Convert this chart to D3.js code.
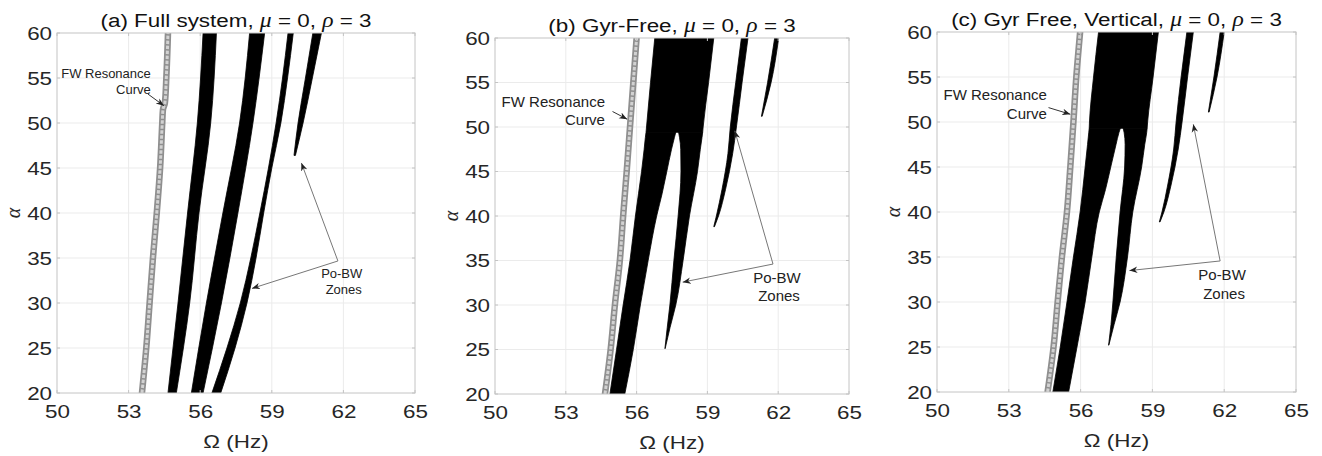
<!DOCTYPE html>
<html>
<head>
<meta charset="utf-8">
<script src="https://cdn.jsdelivr.net/npm/d3@7"></script>
<style>
  body { margin: 0; background: #fff; }
  svg { display: block; font-family: "Liberation Sans", Arial, sans-serif; }
</style>
</head>
<body>
<svg id="chart" width="1322" height="456"></svg>
<script>
// axis ticks (same for all three panels)
var xTicks = [50, 53, 56, 59, 62, 65];
var yTicks = [20, 25, 30, 35, 40, 45, 50, 55, 60];

// FW resonance curves: [Omega (Hz), alpha]
var fwCurveA = [[53.56, 20], [53.74, 25], [53.88, 30], [54.02, 35], [54.18, 40], [54.32, 45],
  [54.41, 50], [54.44, 51.5], [54.52, 52.2], [54.58, 55], [54.65, 60]];
var fwCurveB = [[54.66, 20], [54.90, 25], [55.08, 30], [55.29, 35], [55.43, 40], [55.58, 45],
  [55.72, 50], [55.86, 55], [56.0, 60]];
var fwCurveC = [[54.62, 20], [54.87, 25], [55.04, 30], [55.22, 35], [55.43, 40], [55.57, 45],
  [55.70, 50], [55.82, 55], [55.98, 60]];

// Po-BW zones: rows of [alpha, Omega left edge, Omega right edge]
// panel (a) full system
var band1A = [[20, 54.65, 55.0], [30, 55.07, 55.56], [40, 55.47, 55.95], [50, 55.88, 56.44], [60, 56.12, 56.68]];
var band2A = [[20, 55.63, 56.12], [30, 56.26, 56.89], [40, 56.95, 57.58], [50, 57.65, 58.21], [60, 58.07, 58.70]];
var band3A = [[20, 56.49, 56.86], [25, 57.12, 57.46], [30, 57.68, 57.96], [35, 58.12, 58.34], [40, 58.5, 58.66],
  [45, 58.86, 59.0], [50, 59.18, 59.38], [55, 59.45, 59.66], [60, 59.68, 59.9]];
var band4A = [[46.4, 59.93, 59.99], [50, 60.10, 60.31], [55, 60.41, 60.70], [60, 60.72, 61.08]];

// panel (b) gyr-free: main zone split into left column, right branch and top block
var leftColB = [[20, 54.87, 55.5], [25, 55.15, 55.86], [30, 55.43, 56.16], [35, 55.72, 56.49], [40, 55.95, 56.85],
  [42.5, 56.08, 57.08], [45, 56.21, 57.28], [47.5, 56.32, 57.48], [48.8, 56.37, 57.6], [49.4, 56.4, 57.66]];
var rightBrB = [[25.1, 57.2, 57.21], [27.5, 57.3, 57.42], [30, 57.41, 57.66], [35, 57.58, 57.97], [40, 57.76, 58.24],
  [45, 57.88, 58.58], [47.5, 57.87, 58.7], [48.8, 57.82, 58.77], [49.4, 57.78, 58.8]];
var topBlockB = [[49.4, 56.4, 58.8], [50, 56.42, 58.82], [55, 56.59, 59.05], [60, 56.77, 59.27]];
var thinB = [[38.8, 59.27, 59.3], [40, 59.38, 59.47], [43, 59.62, 59.77], [47, 59.87, 60.07], [50, 59.97, 60.23],
  [55, 60.2, 60.47], [60, 60.44, 60.72]];
var tipB = [[51.2, 61.29, 61.32], [55, 61.55, 61.7], [60, 61.85, 62.02]];

// panel (c) gyr free, vertical
var leftColC = [[20, 54.84, 55.5], [25, 55.15, 55.85], [30, 55.43, 56.19], [35, 55.70, 56.47], [40, 55.98, 56.78],
  [42.5, 56.09, 57.04], [45, 56.19, 57.26], [47.5, 56.29, 57.48], [48.8, 56.34, 57.6], [49.3, 56.36, 57.66]];
var rightBrC = [[25.2, 57.17, 57.18], [27.5, 57.27, 57.4], [30, 57.35, 57.65], [35, 57.49, 57.96], [40, 57.65, 58.18],
  [45, 57.84, 58.55], [47.5, 57.86, 58.68], [48.8, 57.82, 58.76], [49.3, 57.78, 58.78]];
var topBlockC = [[49.3, 56.36, 58.78], [50, 56.37, 58.8], [55, 56.54, 59.03], [60, 56.75, 59.25]];
var thinC = [[38.9, 59.29, 59.32], [40, 59.4, 59.48], [43, 59.64, 59.78], [47, 59.89, 60.08], [50, 59.99, 60.24],
  [55, 60.2, 60.47], [60, 60.44, 60.71]];
var tipC = [[51.1, 61.34, 61.37], [55, 61.57, 61.7], [60, 61.83, 62.0]];

var panels = [
  {
    title: ['(a) Full system, ', 'μ', ' = 0, ', 'ρ', ' = 3'],
    box: { l: 57, t: 33, r: 415, b: 393 },
    fw: fwCurveA,
    zones: [band1A, band2A, band3A, band4A],
    annSize: 13,
    fwText: [53.93, 55.03], fwArrow: [[53.81, 53.22], [54.48, 51.92]],
    poText: [61.93, 32.81], poJoin: [61.77, 34.67], poTips: [[60.24, 45.56], [58.17, 31.62]]
  },
  {
    title: ['(b) Gyr-Free, ', 'μ', ' = 0, ', 'ρ', ' = 3'],
    box: { l: 495, t: 38, r: 849, b: 394 },
    fw: fwCurveB,
    zones: [leftColB, rightBrB, topBlockB, thinB, tipB],
    annSize: 15,
    fwText: [54.66, 52.27], fwArrow: [[54.98, 51.74], [55.6, 50.88]],
    poText: [61.95, 32.46], poJoin: [61.78, 34.6], poTips: [[60.16, 49.57], [57.95, 32.57]]
  },
  {
    title: ['(c) Gyr Free, Vertical, ', 'μ', ' = 0, ', 'ρ', ' = 3'],
    box: { l: 937, t: 32, r: 1296, b: 392 },
    fw: fwCurveC,
    zones: [leftColC, rightBrC, topBlockC, thinC, tipC],
    annSize: 15,
    fwText: [54.59, 52.41], fwArrow: [[54.66, 51.6], [55.57, 50.86]],
    poText: [61.91, 32.41], poJoin: [61.83, 34.56], poTips: [[60.71, 49.74], [58.04, 33.49]]
  }
];

// the source figure is stretched sideways a little
var stretch = 1.18;
var inkColor = '#262626';
var frameColor = '#c4c4c4';

var svg = d3.select('#chart');

var defs = svg.append('defs');
defs.append('marker')
  .attr('id', 'head')
  .attr('viewBox', '0 0 10 10')
  .attr('refX', 10).attr('refY', 5)
  .attr('markerWidth', 8).attr('markerHeight', 8)
  .attr('markerUnits', 'userSpaceOnUse')
  .attr('orient', 'auto')
  .append('path')
  .attr('d', 'M0,1 L10,5 L0,9 L3,5 Z')
  .attr('fill', '#222');

function wideText(parent, cx, cy, size) {
  return parent.append('text')
    .attr('transform', 'translate(' + cx + ',' + cy + ') scale(' + stretch + ',1)')
    .attr('text-anchor', 'middle')
    .attr('font-size', size)
    .attr('fill', inkColor);
}

panels.forEach(function (p, k) {
  var b = p.box;
  var x = d3.scaleLinear().domain([50, 65]).range([b.l, b.r]);
  var y = d3.scaleLinear().domain([20, 60]).range([b.b, b.t]);
  var g = svg.append('g').attr('class', 'panel');

  defs.append('clipPath').attr('id', 'clip' + k)
    .append('rect')
    .attr('x', b.l).attr('y', b.t)
    .attr('width', b.r - b.l).attr('height', b.b - b.t);

  // grid
  g.selectAll('line.gx').data(xTicks.slice(1, -1)).join('line')
    .attr('x1', function (d) { return x(d); }).attr('x2', function (d) { return x(d); })
    .attr('y1', b.t).attr('y2', b.b)
    .attr('stroke', '#ebebeb');
  g.selectAll('line.gy').data(yTicks.slice(1, -1)).join('line')
    .attr('y1', function (d) { return y(d); }).attr('y2', function (d) { return y(d); })
    .attr('x1', b.l).attr('x2', b.r)
    .attr('stroke', '#ebebeb');

  var plot = g.append('g').attr('clip-path', 'url(#clip' + k + ')');
  var line = d3.line().x(function (d) { return x(d[0]); }).y(function (d) { return y(d[1]); });

  // black Po-BW zones
  var zoneArea = d3.area()
    .y(function (d) { return y(d[0]); })
    .x0(function (d) { return x(d[1]); })
    .x1(function (d) { return x(d[2]); })
    .curve(d3.curveMonotoneY);
  plot.selectAll('path.zone').data(p.zones).join('path')
    .attr('class', 'zone')
    .attr('d', zoneArea)
    .attr('fill', '#000').attr('stroke', '#000').attr('stroke-width', 0.8)
    .attr('stroke-linejoin', 'round');

  // FW resonance curve (chain of circle markers)
  var fwLine = d3.line().x(function (d) { return x(d[0]); }).y(function (d) { return y(d[1]); })
    .curve(d3.curveMonotoneY);
  plot.append('path').attr('d', fwLine(p.fw))
    .attr('fill', 'none').attr('stroke', '#8f8f8f').attr('stroke-width', 6.5)
    .attr('stroke-linecap', 'round');
  plot.append('path').attr('d', fwLine(p.fw))
    .attr('fill', 'none').attr('stroke', '#d2d2d2').attr('stroke-width', 3)
    .attr('stroke-dasharray', '3.5 1.5');

  // frame
  g.append('rect')
    .attr('x', b.l).attr('y', b.t)
    .attr('width', b.r - b.l).attr('height', b.b - b.t)
    .attr('fill', 'none').attr('stroke', frameColor);

  var gx = g.append('g').attr('transform', 'translate(0,' + b.b + ')')
    .call(d3.axisBottom(x).tickValues(xTicks).tickSize(0).tickPadding(12));
  gx.select('.domain').remove();
  gx.selectAll('text')
    .attr('font-size', 19).attr('fill', inkColor)
    .attr('font-family', '"Liberation Sans", Arial, sans-serif')
    .attr('transform', 'scale(' + stretch + ',1)');

  var gy = g.append('g').attr('transform', 'translate(' + b.l + ',0)')
    .call(d3.axisLeft(y).tickValues(yTicks).tickSize(0).tickPadding(4.2));
  gy.select('.domain').remove();
  gy.selectAll('text')
    .attr('font-size', 19).attr('fill', inkColor)
    .attr('font-family', '"Liberation Sans", Arial, sans-serif')
    .attr('transform', 'scale(' + stretch + ',1)');

  // small inward ticks on all four sides
  [[b.b, -3], [b.t, 3]].forEach(function (s) {
    g.append('g').selectAll('line').data(xTicks).join('line')
      .attr('x1', function (d) { return x(d); }).attr('x2', function (d) { return x(d); })
      .attr('y1', s[0]).attr('y2', s[0] + s[1]).attr('stroke', frameColor);
  });
  [[b.l, 3], [b.r, -3]].forEach(function (s) {
    g.append('g').selectAll('line').data(yTicks).join('line')
      .attr('y1', function (d) { return y(d); }).attr('y2', function (d) { return y(d); })
      .attr('x1', s[0]).attr('x2', s[0] + s[1]).attr('stroke', frameColor);
  });

  // title
  var title = wideText(g, (b.l + b.r) / 2, b.t - 6, 19).attr('fill', '#111');
  p.title.forEach(function (s, i) {
    var ts = title.append('tspan').text(s);
    if (i === 1 || i === 3) {
      ts.attr('font-family', '"Liberation Serif", "DejaVu Serif", serif')
        .attr('font-style', 'italic').attr('font-size', 20);
    }
  });

  // axis labels
  wideText(g, (b.l + b.r) / 2, b.b + 55, 19).text('Ω (Hz)');
  g.append('text')
    .attr('transform', 'translate(' + (b.l - 43) + ',' + y(40) + ') rotate(-90)')
    .attr('text-anchor', 'middle')
    .attr('dy', '0.3em')
    .attr('font-family', '"Liberation Serif", "DejaVu Serif", serif').attr('font-style', 'italic')
    .attr('font-size', 20).attr('fill', inkColor)
    .text('α');

  // annotations
  var ann = g.append('g').attr('font-size', p.annSize).attr('fill', '#222');
  var fwT = ann.append('text')
    .attr('x', x(p.fwText[0])).attr('y', y(p.fwText[1]))
    .attr('text-anchor', 'end');
  fwT.append('tspan').text('FW Resonance');
  fwT.append('tspan').attr('x', x(p.fwText[0])).attr('dy', '1.22em').text('Curve');
  ann.append('path').attr('d', line(p.fwArrow))
    .attr('fill', 'none').attr('stroke', '#333')
    .attr('marker-end', 'url(#head)');

  var poT = ann.append('text')
    .attr('x', x(p.poText[0])).attr('y', y(p.poText[1]))
    .attr('text-anchor', 'middle');
  poT.append('tspan').text('Po-BW');
  poT.append('tspan').attr('x', x(p.poText[0]) + 2).attr('dy', '1.22em').text('Zones');
  p.poTips.forEach(function (tip) {
    ann.append('path').attr('d', line([p.poJoin, tip]))
      .attr('fill', 'none').attr('stroke', '#777')
      .attr('marker-end', 'url(#head)');
  });
});
</script>
</body>
</html>
